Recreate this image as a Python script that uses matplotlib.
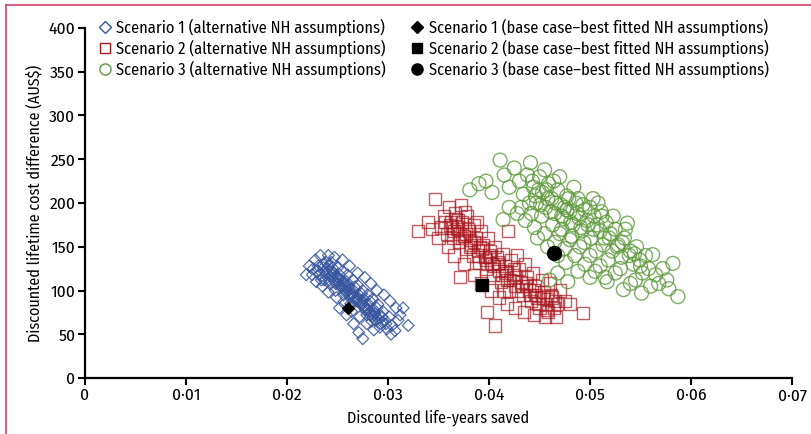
import matplotlib
matplotlib.use("Agg")
import matplotlib.pyplot as plt
from matplotlib.lines import Line2D
from matplotlib.ticker import FuncFormatter, MultipleLocator

plt.rcParams["font.family"] = ["Fira Sans Condensed", "Asap Condensed", "Archivo Narrow", "DejaVu Sans"]

# Scenario 1 (alternative NH assumptions)
s1_x = [0.0222, 0.0228, 0.0230, 0.0233, 0.0225, 0.0236, 0.0238, 0.0240, 0.0242, 0.0244,
        0.0246, 0.0248, 0.0250, 0.0251, 0.0253, 0.0255, 0.0256, 0.0258, 0.0260, 0.0261,
        0.0263, 0.0265, 0.0266, 0.0268, 0.0270, 0.0271, 0.0273, 0.0275, 0.0276, 0.0278,
        0.0280, 0.0281, 0.0283, 0.0285, 0.0286, 0.0288, 0.0290, 0.0291, 0.0293, 0.0295,
        0.0297, 0.0299, 0.0301, 0.0304, 0.0307, 0.0310, 0.0315, 0.0320, 0.0312, 0.0308,
        0.0302, 0.0296, 0.0289, 0.0283, 0.0277, 0.0270, 0.0262, 0.0255, 0.0247, 0.0241,
        0.0235, 0.0241, 0.0249, 0.0257, 0.0264, 0.0272, 0.0279, 0.0286, 0.0275, 0.0271,
        0.0266, 0.0259, 0.0252, 0.0234, 0.0229, 0.0226, 0.0219, 0.0231, 0.0239, 0.0245,
        0.0252, 0.0259, 0.0267, 0.0274, 0.0282, 0.0289, 0.0294, 0.0298, 0.0303, 0.0279,
        0.0284, 0.0292, 0.0263, 0.0256, 0.0248, 0.0242, 0.0237, 0.0244, 0.0250, 0.0257,
        0.0264, 0.0269, 0.0277, 0.0287, 0.0236, 0.0239, 0.0243, 0.0247, 0.0251, 0.0254,
        0.0258, 0.0262, 0.0266, 0.0270, 0.0274, 0.0278, 0.0282, 0.0286, 0.0290, 0.0294,
        0.0232, 0.0237, 0.0241, 0.0245, 0.0249, 0.0253, 0.0257, 0.0261, 0.0265, 0.0269,
        0.0273, 0.0277, 0.0281, 0.0285]
s1_y = [128, 135, 122, 140, 118, 130, 118, 125, 112, 132,
        120, 108, 126, 115, 104, 122, 110, 98, 118, 105,
        93, 112, 100, 88, 106, 95, 84, 100, 90, 78,
        95, 84, 72, 90, 78, 66, 84, 72, 62, 76,
        66, 56, 70, 60, 54, 66, 80, 60, 72, 80,
        88, 95, 100, 108, 115, 120, 128, 135, 138, 140,
        105, 98, 92, 85, 76, 70, 62, 55, 45, 52,
        62, 72, 80, 112, 110, 125, 118, 128, 132, 126,
        118, 110, 104, 96, 88, 80, 70, 62, 50, 72,
        65, 58, 85, 95, 100, 108, 122, 118, 112, 104,
        96, 90, 82, 74, 126, 120, 116, 112, 108, 104,
        100, 96, 92, 88, 84, 80, 76, 72, 68, 64,
        118, 112, 128, 122, 116, 112, 106, 100, 96, 92,
        88, 82, 78, 70]

# Scenario 2 (alternative NH assumptions)
s2_x = [0.0330, 0.0340, 0.0347, 0.0352, 0.0355, 0.0358, 0.0360, 0.0362, 0.0364, 0.0366,
        0.0368, 0.0370, 0.0372, 0.0373, 0.0375, 0.0377, 0.0378, 0.0380, 0.0382, 0.0384,
        0.0385, 0.0387, 0.0389, 0.0390, 0.0392, 0.0394, 0.0396, 0.0397, 0.0399, 0.0401,
        0.0403, 0.0404, 0.0406, 0.0408, 0.0410, 0.0412, 0.0414, 0.0416, 0.0418, 0.0419,
        0.0420, 0.0422, 0.0424, 0.0426, 0.0428, 0.0430, 0.0432, 0.0434, 0.0436, 0.0438,
        0.0440, 0.0442, 0.0444, 0.0446, 0.0448, 0.0450, 0.0452, 0.0454, 0.0456, 0.0458,
        0.0460, 0.0462, 0.0464, 0.0466, 0.0470, 0.0475, 0.0480, 0.0493, 0.0406, 0.0398,
        0.0371, 0.0365, 0.0375, 0.0385, 0.0392, 0.0402, 0.0410, 0.0418, 0.0426, 0.0435,
        0.0445, 0.0455, 0.0359, 0.0350, 0.0344, 0.0363, 0.0371, 0.0381, 0.0391, 0.0400,
        0.0409, 0.0417, 0.0427, 0.0437, 0.0447, 0.0457, 0.0467, 0.0376, 0.0369, 0.0388,
        0.0398, 0.0415, 0.0361, 0.0365, 0.0369, 0.0373, 0.0377, 0.0381, 0.0385, 0.0389,
        0.0393, 0.0397, 0.0401, 0.0405, 0.0409, 0.0413, 0.0417, 0.0421, 0.0425, 0.0429,
        0.0433, 0.0437, 0.0441, 0.0445, 0.0449, 0.0453, 0.0457, 0.0461, 0.0465, 0.0356,
        0.0367, 0.0379]
s2_y = [168, 178, 205, 172, 185, 165, 195, 178, 160, 188,
        170, 155, 198, 178, 162, 148, 185, 168, 152, 140,
        175, 160, 145, 132, 168, 152, 138, 125, 160, 145,
        130, 118, 150, 138, 122, 110, 142, 128, 112, 168,
        100, 135, 118, 105, 141, 125, 110, 95, 130, 115,
        100, 88, 120, 105, 92, 80, 112, 98, 85, 75,
        108, 92, 80, 70, 100, 88, 85, 74, 60, 75,
        115, 140, 130, 118, 108, 100, 92, 85, 80, 75,
        72, 70, 150, 160, 170, 172, 165, 158, 150, 140,
        130, 120, 115, 105, 95, 90, 85, 190, 180, 178,
        130, 100, 175, 168, 172, 160, 165, 150, 155, 140,
        148, 135, 138, 128, 132, 118, 122, 112, 125, 100,
        105, 108, 95, 100, 85, 92, 78, 95, 88, 178,
        182, 170]

# Scenario 3 (alternative NH assumptions)
s3_x = [0.0381, 0.0390, 0.0397, 0.0403, 0.0411, 0.0415, 0.0420, 0.0425, 0.0430, 0.0434,
        0.0441, 0.0438, 0.0444, 0.0447, 0.0450, 0.0453, 0.0456, 0.0459, 0.0462, 0.0465,
        0.0468, 0.0471, 0.0474, 0.0477, 0.0480, 0.0483, 0.0486, 0.0489, 0.0492, 0.0495,
        0.0498, 0.0501, 0.0504, 0.0508, 0.0510, 0.0513, 0.0516, 0.0519, 0.0522, 0.0525,
        0.0528, 0.0531, 0.0537, 0.0534, 0.0540, 0.0543, 0.0546, 0.0549, 0.0552, 0.0555,
        0.0558, 0.0562, 0.0565, 0.0568, 0.0572, 0.0576, 0.0582, 0.0587, 0.0551, 0.0533,
        0.0517, 0.0540, 0.0525, 0.0510, 0.0500, 0.0490, 0.0480, 0.0470, 0.0460, 0.0414,
        0.0420, 0.0428, 0.0436, 0.0445, 0.0455, 0.0465, 0.0475, 0.0485, 0.0495, 0.0505,
        0.0515, 0.0545, 0.0560, 0.0578, 0.0440, 0.0452, 0.0463, 0.0472, 0.0482, 0.0494,
        0.0506, 0.0518, 0.0530, 0.0448, 0.0458, 0.0468, 0.0476, 0.0488, 0.0500, 0.0432,
        0.0442, 0.0458, 0.0475, 0.0488, 0.0500, 0.0512, 0.0470, 0.0455, 0.0468, 0.0478,
        0.0446, 0.0451, 0.0457, 0.0461, 0.0466, 0.0472, 0.0477, 0.0481, 0.0487, 0.0491,
        0.0497, 0.0503, 0.0507, 0.0514, 0.0520, 0.0527, 0.0532, 0.0539, 0.0544, 0.0550,
        0.0443, 0.0449, 0.0464, 0.0479, 0.0484, 0.0493, 0.0503, 0.0511, 0.0523, 0.0535]
s3_y = [215, 222, 225, 212, 249, 232, 218, 240, 225, 210,
        246, 232, 218, 200, 230, 212, 195, 222, 205, 188,
        215, 198, 182, 208, 190, 175, 200, 183, 168, 192,
        175, 160, 185, 200, 168, 152, 178, 160, 145, 170,
        152, 138, 177, 160, 145, 130, 150, 135, 120, 140,
        125, 141, 118, 108, 125, 112, 131, 93, 97, 101,
        110, 108, 120, 128, 140, 150, 158, 165, 112, 181,
        195, 188, 180, 172, 165, 155, 148, 140, 130, 122,
        115, 112, 105, 102, 200, 185, 175, 170, 162, 155,
        145, 135, 125, 160, 150, 140, 132, 122, 115, 195,
        188, 205, 195, 205, 195, 185, 230, 238, 120, 110,
        208, 198, 215, 190, 200, 185, 192, 178, 188, 172,
        180, 170, 175, 160, 165, 150, 155, 140, 142, 128,
        225, 215, 225, 205, 218, 198, 205, 190, 185, 170]

# base case - best fitted NH assumptions
base_x = [0.0260, 0.0393, 0.0464]
base_y = [80, 106, 143]

labels_alt = ["Scenario 1 (alternative NH assumptions)",
              "Scenario 2 (alternative NH assumptions)",
              "Scenario 3 (alternative NH assumptions)"]
labels_base = ["Scenario 1 (base case\u2013best fitted NH assumptions)",
               "Scenario 2 (base case\u2013best fitted NH assumptions)",
               "Scenario 3 (base case\u2013best fitted NH assumptions)"]

blue = "#36569e"
red = "#a8191f"
green = "#5e9a3c"

fig = plt.figure(figsize=(8.11, 4.34), dpi=100)
ax = fig.add_axes([0.1048, 0.129, 0.8718, 0.8065])

ax.scatter(s1_x, s1_y, marker="D", s=36, facecolors="none", edgecolors=blue,
           linewidths=0.9, alpha=0.85)
ax.scatter(s2_x, s2_y, marker="s", s=75, facecolors="none", edgecolors=red,
           linewidths=1.0, alpha=0.7)
ax.scatter(s3_x, s3_y, marker="o", s=100, facecolors="none", edgecolors=green,
           linewidths=1.0, alpha=0.8)
ax.scatter(base_x[0], base_y[0], marker="D", s=36, color="black", zorder=5)
ax.scatter(base_x[1], base_y[1], marker="s", s=70, color="black", zorder=5)
ax.scatter(base_x[2], base_y[2], marker="o", s=100, color="black", zorder=5)

ax.set_xlim(0, 0.07)
ax.set_ylim(0, 400)
ax.xaxis.set_major_locator(MultipleLocator(0.01))
ax.yaxis.set_major_locator(MultipleLocator(50))
ax.xaxis.set_major_formatter(FuncFormatter(
    lambda v, p: "0" if abs(v) < 1e-9 else f"{v:.2f}".replace(".", "\u00b7")))

for side in ["top", "right"]:
    ax.spines[side].set_visible(False)
for side in ["left", "bottom"]:
    ax.spines[side].set_linewidth(1.6)
ax.tick_params(length=5, width=1.5, labelsize=12.5, pad=2)

ax.set_xlabel("Discounted life-years saved", fontsize=11.5)
ax.set_ylabel("Discounted lifetime cost difference (AUS$)", fontsize=11.5)

# legend markers drawn without alpha
h_alt = [Line2D([], [], marker=m, ls="none", mfc="none", mec=c, ms=ms, mew=1.0)
         for m, c, ms in [("D", blue, 6), ("s", red, 7), ("o", green, 8)]]
h_base = [Line2D([], [], marker=m, ls="none", color="black", ms=ms)
          for m, ms in [("D", 6), ("s", 7), ("o", 8)]]
ax.legend(h_alt + h_base, labels_alt + labels_base, ncol=2, loc="upper left",
          bbox_to_anchor=(-0.002, 1.068), frameon=False, fontsize=11.8,
          handlelength=0.8, handletextpad=0.3, columnspacing=1.5, labelspacing=0.2)

# journal frame lines
frame = "#cc4466"
fig.add_artist(Line2D([6 / 811, 1], [1 - 5 / 434, 1 - 5 / 434], color=frame, lw=1.2,
                      transform=fig.transFigure))
fig.add_artist(Line2D([6 / 811, 6 / 811], [0, 1 - 5 / 434], color=frame, lw=1.2,
                      transform=fig.transFigure))

fig.savefig("out.png", dpi=100)
